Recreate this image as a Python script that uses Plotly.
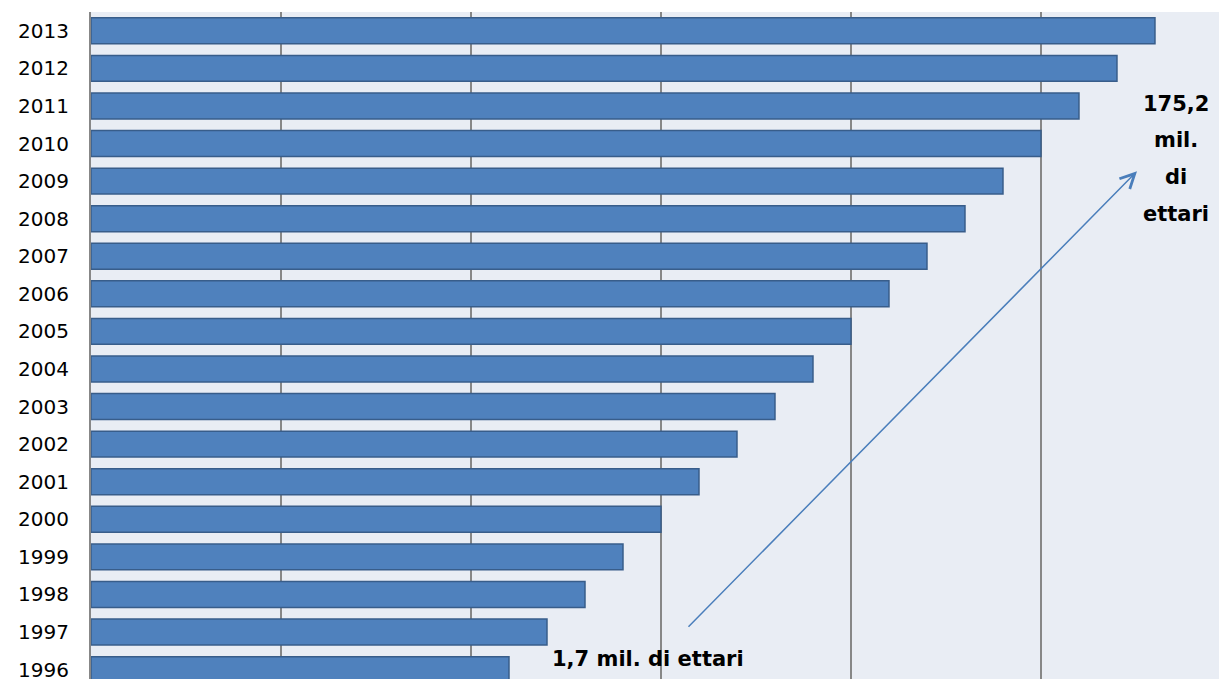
import plotly.graph_objects as go

years = [str(y) for y in range(1996, 2014)]
values = [22, 24, 26, 28, 30, 32, 34, 36, 38, 40, 42, 44, 46, 48, 50, 52, 54, 56]

label_top = ["175,2", "mil.", "di", "ettari"]
label_bottom = "1,7 mil. di ettari"

W, H = 1219, 682
ML, MT = 91, 12
xmax = 59.37
yr = [-0.25, 17.5]

def px_to_x(px):
    return (px - ML) / (W - ML) * xmax

def py_to_y(py):
    return yr[1] - (py - MT) / (H - MT) * (yr[1] - yr[0])

fig = go.Figure()
fig.add_trace(go.Bar(
    y=years, x=values, orientation="h",
    marker=dict(color="#4F81BD", line=dict(color="#385D8A", width=1.5)),
))

ann = []
# arrow
ann.append(dict(
    x=px_to_x(1137), y=py_to_y(172), ax=px_to_x(687), ay=py_to_y(631),
    xref="x", yref="y", axref="x", ayref="y",
    text="", showarrow=True, arrowhead=5, arrowsize=1.9, arrowwidth=1.5,
    arrowcolor="#4A7EBB", standoff=0, startstandoff=0,
))
for i, t in enumerate(label_top):
    ann.append(dict(
        x=px_to_x(1176), y=py_to_y(104 + 37 * i), xref="x", yref="y",
        text="<b>%s</b>" % t, showarrow=False,
        font=dict(family="DejaVu Sans", size=21, color="black"),
        xanchor="center", yanchor="middle",
    ))
ann.append(dict(
    x=px_to_x(648), y=py_to_y(662), xref="x", yref="y",
    text="<b>%s</b>" % label_bottom, showarrow=False,
    font=dict(family="DejaVu Sans", size=21, color="black"),
    xanchor="center", yanchor="middle",
))

fig.update_layout(
    width=W, height=H,
    margin=dict(l=ML, r=0, t=MT, b=0, pad=0),
    paper_bgcolor="white", plot_bgcolor="#E9EDF4",
    bargap=0.31, showlegend=False,
    annotations=ann,
    xaxis=dict(range=[0, xmax], dtick=10, showgrid=True, gridcolor="#878787",
               gridwidth=1.5, showticklabels=False, zeroline=False, fixedrange=True),
    yaxis=dict(type="category", categoryorder="array", categoryarray=years,
               range=yr, showgrid=False, showline=True, linecolor="#878787",
               linewidth=2, ticks="", ticklabelstandoff=16,
               tickfont=dict(family="DejaVu Sans", size=20, color="black")),
)

fig.write_html("out.html")
